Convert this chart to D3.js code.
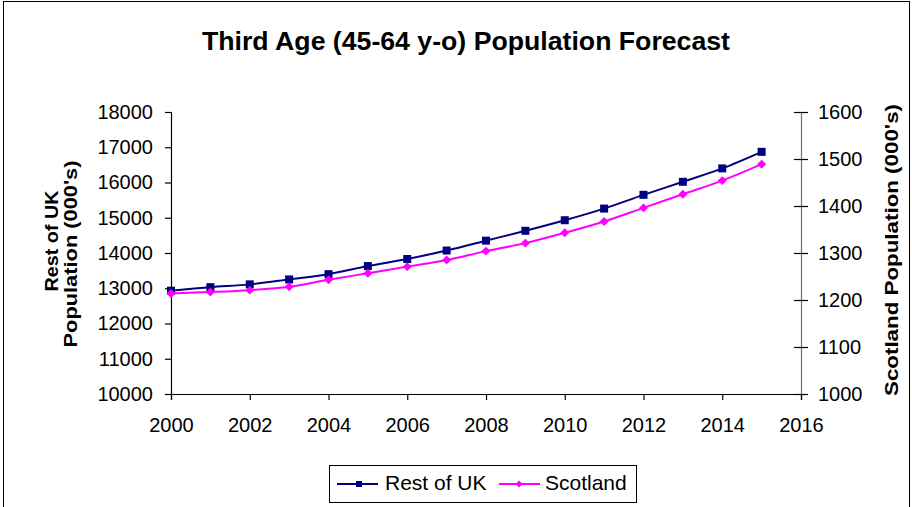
<!DOCTYPE html>
<html>
<head>
<meta charset="utf-8">
<script src="https://cdn.jsdelivr.net/npm/d3@7"></script>
<style>
  body { margin: 0; background: #fff; }
  svg text { font-family: "Liberation Sans", Arial, sans-serif; }
</style>
</head>
<body>
<svg id="chart" width="912" height="507"></svg>
<script>
// values
const years = [2000, 2001, 2002, 2003, 2004, 2005, 2006, 2007, 2008, 2009, 2010, 2011, 2012, 2013, 2014, 2015];
const restOfUK = [12930, 13030, 13110, 13250, 13400, 13630, 13830, 14070, 14350, 14630, 14930, 15260, 15650, 16020, 16400, 16870];
const scotland = [1214, 1217, 1221, 1228, 1243, 1257, 1271, 1285, 1304, 1321, 1343, 1367, 1396, 1425, 1454, 1489];
const xTicks = [2000, 2002, 2004, 2006, 2008, 2010, 2012, 2014, 2016];
const leftTicks = [10000, 11000, 12000, 13000, 14000, 15000, 16000, 17000, 18000];
const rightTicks = [1000, 1100, 1200, 1300, 1400, 1500, 1600];

const svg = d3.select("#chart");

// outer chart border
svg.append("rect")
   .attr("x", 3.5).attr("y", 1.5)
   .attr("width", 906).attr("height", 520)
   .style("fill", "none").style("stroke", "#000").style("stroke-width", 1);

const x = d3.scaleLinear().domain([2000, 2016]).range([171, 801]);
const yL = d3.scaleLinear().domain([10000, 18000]).range([394, 112]);
const yR = d3.scaleLinear().domain([1000, 1600]).range([394, 112]);

// title
svg.append("text")
   .attr("x", 466).attr("y", 50)
   .attr("text-anchor", "middle")
   .attr("textLength", 528).attr("lengthAdjust", "spacingAndGlyphs")
   .style("font-size", "25.5px").style("font-weight", "bold")
   .text("Third Age (45-64 y-o) Population Forecast");

// axes
const xAxis = svg.append("g").attr("transform", "translate(0," + yL(10000) + ")")
   .call(d3.axisBottom(x).tickValues(xTicks).tickFormat(d3.format("d")).tickSize(6).tickPadding(18));
const lAxis = svg.append("g").attr("transform", "translate(" + x(2000) + ",0)")
   .call(d3.axisLeft(yL).tickValues(leftTicks).tickFormat(d3.format("d")).tickSize(6).tickPadding(12));
const rAxis = svg.append("g").attr("transform", "translate(" + x(2016) + ",0)")
   .call(d3.axisRight(yR).tickValues(rightTicks).tickFormat(d3.format("d")).tickSize(7).tickPadding(10));

[xAxis, lAxis, rAxis].forEach(a => {
  a.select(".domain").attr("stroke", "#000").attr("stroke-width", 1.2);
  a.selectAll(".tick line").attr("stroke", "#000").attr("stroke-width", 1.2);
  a.selectAll(".tick text").style("font-size", "20px").attr("fill", "#000");
});
xAxis.selectAll(".tick text").attr("dy", "0.72em");
// right axis ticks cross the line
rAxis.selectAll(".tick line").attr("x1", -7);
rAxis.select(".domain").attr("stroke", "#707070");

// axis titles (rotated, glyphs a bit narrower than their length)
function axisTitle(tx, ty, len, label) {
  svg.append("text")
     .attr("transform", "translate(" + tx + "," + ty + ") rotate(-90) scale(1,0.86)")
     .attr("text-anchor", "middle")
     .attr("textLength", len).attr("lengthAdjust", "spacingAndGlyphs")
     .style("font-size", "21.5px").style("font-weight", "bold")
     .text(label);
}
axisTitle(58, 241, 101, "Rest of UK");
axisTitle(77, 254, 187, "Population (000's)");
axisTitle(898, 250, 292, "Scotland Population (000's)");

const navy = "#000080", magenta = "#ff00ff";

const lineL = d3.line().x((d, i) => x(years[i])).y(d => yL(d)).curve(d3.curveCatmullRom);
const lineR = d3.line().x((d, i) => x(years[i])).y(d => yR(d)).curve(d3.curveCatmullRom);

svg.append("path").datum(restOfUK).attr("d", lineL)
   .style("fill", "none").style("stroke", navy).style("stroke-width", 2);
svg.append("path").datum(scotland).attr("d", lineR)
   .style("fill", "none").style("stroke", magenta).style("stroke-width", 2);

svg.selectAll("rect.uk").data(restOfUK).enter().append("rect")
   .attr("class", "uk")
   .attr("x", (d, i) => x(years[i]) - 4)
   .attr("y", d => yL(d) - 4)
   .attr("width", 8).attr("height", 8)
   .style("fill", navy);

const diamond = d3.symbol().type(d3.symbolSquare).size(40);
svg.selectAll("path.sc").data(scotland).enter().append("path")
   .attr("class", "sc")
   .attr("d", diamond)
   .attr("transform", (d, i) => "translate(" + x(years[i]) + "," + yR(d) + ") rotate(45)")
   .style("fill", magenta);

// legend
const lg = svg.append("g");
lg.append("rect")
  .attr("x", 329.5).attr("y", 465.5).attr("width", 307).attr("height", 37)
  .style("fill", "#fff").style("stroke", "#000").style("stroke-width", 1);
lg.append("line").attr("x1", 337).attr("x2", 378).attr("y1", 484).attr("y2", 484)
  .style("stroke", navy).style("stroke-width", 2);
lg.append("rect").attr("x", 356).attr("y", 481).attr("width", 6).attr("height", 6).style("fill", navy);
lg.append("text").attr("x", 385).attr("y", 490).style("font-size", "21px").text("Rest of UK");
lg.append("line").attr("x1", 499).attr("x2", 540).attr("y1", 484).attr("y2", 484)
  .style("stroke", magenta).style("stroke-width", 2);
lg.append("path").attr("d", d3.symbol().type(d3.symbolSquare).size(25))
  .attr("transform", "translate(519,484) rotate(45)").style("fill", magenta);
lg.append("text").attr("x", 545).attr("y", 490).style("font-size", "21px").text("Scotland");
</script>
</body>
</html>
